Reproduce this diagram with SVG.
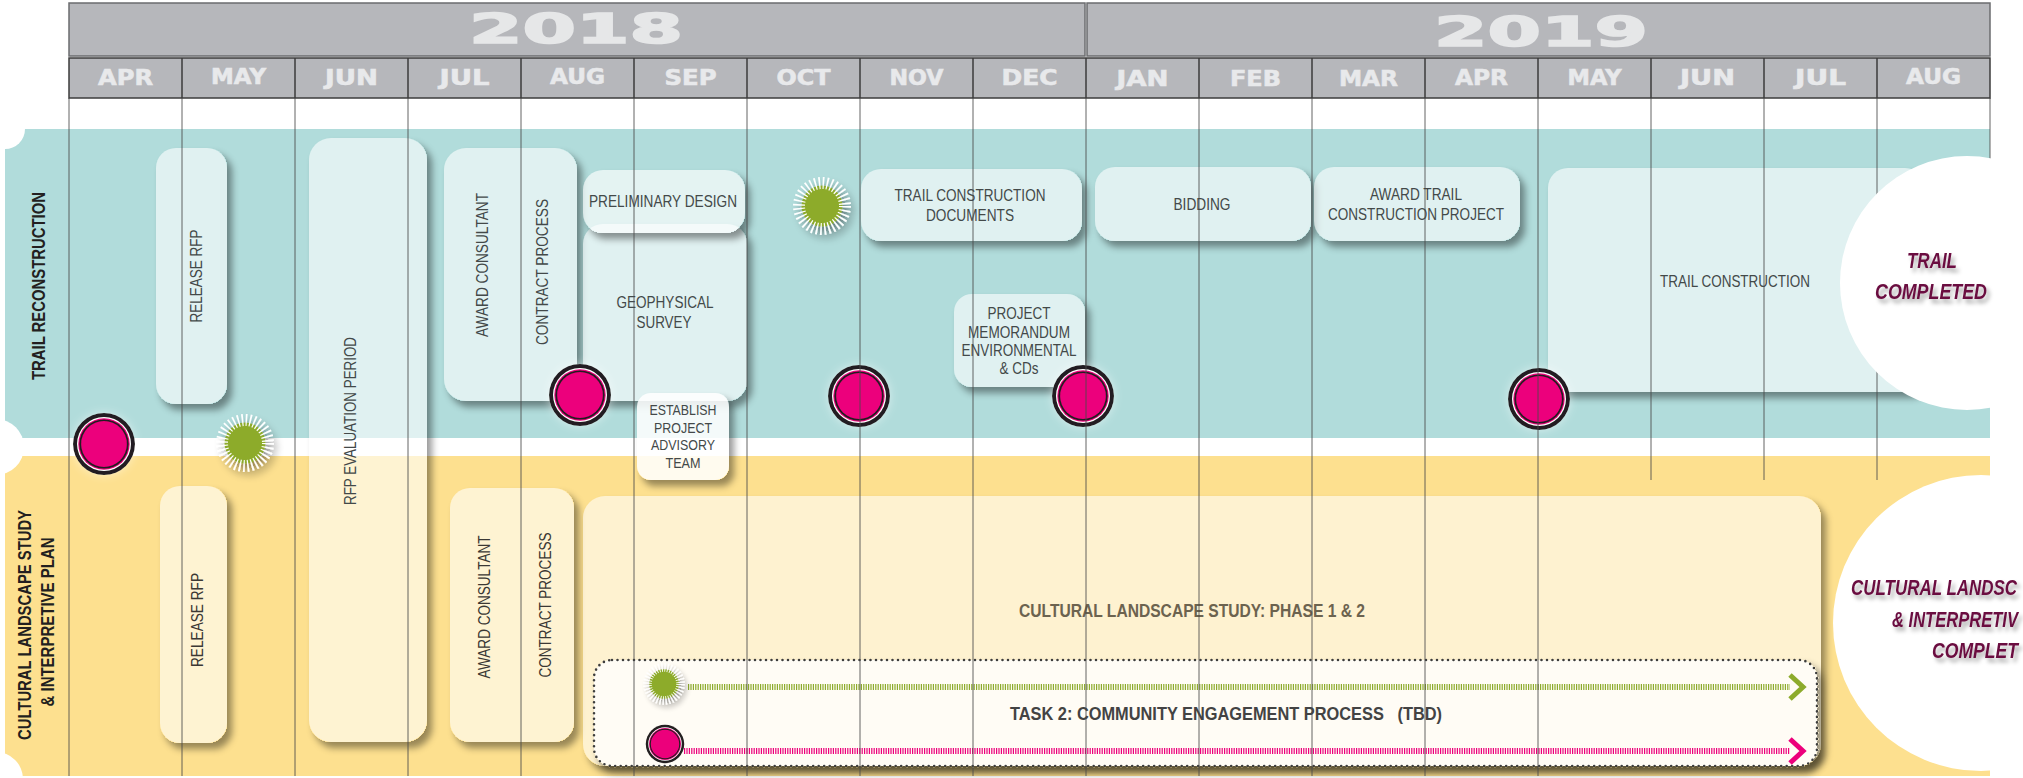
<svg xmlns="http://www.w3.org/2000/svg" xmlns:xlink="http://www.w3.org/1999/xlink" width="2023" height="778" viewBox="0 0 2023 778">
<style>
.t{font-family:"Liberation Sans",Arial,sans-serif;font-size:16.5px;fill:#434949;text-anchor:middle}
.tc{fill:#3b3834}
.bt{font-family:"Liberation Sans",Arial,sans-serif;font-size:19px;font-weight:bold;text-anchor:middle}
.mo{font-family:"DejaVu Sans",sans-serif;font-weight:bold;font-size:21px;fill:#e8e9eb;stroke:#e8e9eb;stroke-width:0.6;text-anchor:middle}
.yr{font-family:"DejaVu Sans",sans-serif;font-weight:bold;font-size:41px;fill:#e6e7e8;stroke:#e6e7e8;stroke-width:1.6}
.row{font-family:"Liberation Sans",Arial,sans-serif;font-weight:bold;font-size:18.5px;fill:#231f20;text-anchor:middle}
.done{font-family:"Liberation Sans",Arial,sans-serif;font-weight:bold;font-style:italic;font-size:22px;fill:#6b0d40}
.box{fill:#fff;fill-opacity:0.6}
.hd{fill:#b6b7bb}
</style>
<defs>
<filter id="sh" x="-30%" y="-30%" width="160%" height="160%" color-interpolation-filters="sRGB">
<feComponentTransfer in="SourceAlpha" result="a"><feFuncA type="linear" slope="20"/></feComponentTransfer>
<feGaussianBlur in="a" stdDeviation="3.5" result="bl"/>
<feOffset in="bl" dx="5" dy="6" result="of"/>
<feFlood flood-color="#000" flood-opacity="0.4"/>
<feComposite in2="of" operator="in" result="shc"/>
<feComposite in="shc" in2="a" operator="out" result="s"/>
<feMerge><feMergeNode in="s"/><feMergeNode in="SourceGraphic"/></feMerge>
</filter>
<filter id="ds" x="-50%" y="-50%" width="200%" height="200%"><feDropShadow dx="4" dy="5" stdDeviation="3" flood-color="#000" flood-opacity="0.4"/></filter>
<filter id="glow" x="-50%" y="-50%" width="200%" height="200%"><feGaussianBlur in="SourceAlpha" stdDeviation="5"/><feComponentTransfer><feFuncA type="linear" slope="0.5"/></feComponentTransfer><feColorMatrix type="matrix" values="0 0 0 0 1 0 0 0 0 1 0 0 0 0 1 0 0 0 1 0"/><feMerge><feMergeNode/><feMergeNode in="SourceGraphic"/></feMerge></filter>
<filter id="ts" x="-20%" y="-40%" width="140%" height="180%"><feDropShadow dx="3" dy="4" stdDeviation="2" flood-color="#000" flood-opacity="0.35"/></filter>
<g id="ms"><circle r="31" fill="#231f20"/><circle r="27" fill="#fff"/><circle r="25.7" fill="#ec007b"/><circle r="24.6" fill="#231f20"/><circle r="22.9" fill="#ec007b"/></g>
<g id="sun"><circle r="20.5" fill="#8dab2c"/><circle r="23" fill="none" stroke="#fff" stroke-width="12" stroke-dasharray="1.5 2.514"/></g>
<marker id="chG" viewBox="0 0 20 28" markerWidth="20" markerHeight="28" refX="3" refY="14" orient="auto" markerUnits="userSpaceOnUse"><path d="M3,2 L16,14 L3,26" fill="none" stroke="#8dab2c" stroke-width="5"/></marker>
<marker id="chP" viewBox="0 0 20 28" markerWidth="20" markerHeight="28" refX="3" refY="14" orient="auto" markerUnits="userSpaceOnUse"><path d="M3,2 L16,14 L3,26" fill="none" stroke="#ec007b" stroke-width="5"/></marker>
</defs>
<rect width="2023" height="778" fill="#fff"/>
<g id="bands">
<rect x="5" y="129" width="1985" height="309" fill="#b1dcdb"/>
<rect x="5" y="456" width="1985" height="320" fill="#fde08f"/>
<circle cx="5" cy="129" r="20" fill="#fff"/>
<circle cx="-4" cy="447" r="28" fill="#fff"/>
<circle cx="-4" cy="779" r="27" fill="#fff"/>
</g>
<g id="row-labels">
<text class="row" transform="translate(45,286) rotate(-90)" textLength="188" lengthAdjust="spacingAndGlyphs">TRAIL RECONSTRUCTION</text>
<text class="row" transform="translate(31,625) rotate(-90)" textLength="230" lengthAdjust="spacingAndGlyphs">CULTURAL LANDSCAPE STUDY</text>
<text class="row" transform="translate(54,622) rotate(-90)" textLength="169" lengthAdjust="spacingAndGlyphs">&amp; INTERPRETIVE PLAN</text>
</g>
<g id="n-release-rfp-trail"><rect class="box" filter="url(#sh)" x="156" y="148" width="71" height="256" rx="20"/>
<text class="t" transform="translate(202,276) rotate(-90)" textLength="93" lengthAdjust="spacingAndGlyphs">RELEASE RFP</text></g>
<g id="n-rfp-evaluation"><rect class="box" filter="url(#sh)" x="309" y="138" width="118" height="604" rx="22"/>
<text class="t" transform="translate(356,421) rotate(-90)" textLength="168" lengthAdjust="spacingAndGlyphs">RFP EVALUATION PERIOD</text></g>
<g id="n-award-trail-consultant"><rect class="box" filter="url(#sh)" x="444" y="148" width="133" height="253" rx="22"/>
<text class="t" transform="translate(488,265) rotate(-90)" textLength="144" lengthAdjust="spacingAndGlyphs">AWARD CONSULTANT</text>
<text class="t" transform="translate(548,272) rotate(-90)" textLength="146" lengthAdjust="spacingAndGlyphs">CONTRACT PROCESS</text></g>
<g id="n-geophysical"><rect class="box" filter="url(#sh)" x="583" y="224" width="164" height="177" rx="20"/>
<text class="t" x="665" y="308" textLength="97" lengthAdjust="spacingAndGlyphs">GEOPHYSICAL</text>
<text class="t" x="664" y="328" textLength="55" lengthAdjust="spacingAndGlyphs">SURVEY</text></g>
<g id="n-preliminary"><rect class="box" filter="url(#sh)" x="583" y="170" width="162" height="63" rx="20" style="fill-opacity:0.65"/>
<text class="t" x="663" y="207" textLength="148" lengthAdjust="spacingAndGlyphs">PRELIMINARY DESIGN</text></g>
<g id="n-establish"><rect class="box" filter="url(#sh)" x="637" y="393" width="92" height="87" rx="14" style="fill-opacity:0.86"/>
<text class="t" x="683" y="415" style="font-size:14.5px" textLength="67" lengthAdjust="spacingAndGlyphs">ESTABLISH</text>
<text class="t" x="683" y="433" style="font-size:14.5px" textLength="58" lengthAdjust="spacingAndGlyphs">PROJECT</text>
<text class="t" x="683" y="450" style="font-size:14.5px" textLength="64" lengthAdjust="spacingAndGlyphs">ADVISORY</text>
<text class="t" x="683" y="468" style="font-size:14.5px" textLength="35" lengthAdjust="spacingAndGlyphs">TEAM</text></g>
<g id="n-trail-docs"><rect class="box" filter="url(#sh)" x="861" y="169" width="221" height="72" rx="20"/>
<text class="t" x="970" y="201" textLength="151" lengthAdjust="spacingAndGlyphs">TRAIL CONSTRUCTION</text>
<text class="t" x="970" y="221" textLength="88" lengthAdjust="spacingAndGlyphs">DOCUMENTS</text></g>
<g id="n-bidding"><rect class="box" filter="url(#sh)" x="1095" y="167" width="216" height="74" rx="20"/>
<text class="t" x="1202" y="210" textLength="57" lengthAdjust="spacingAndGlyphs">BIDDING</text></g>
<g id="n-award-trail-project"><rect class="box" filter="url(#sh)" x="1314" y="167" width="206" height="74" rx="20"/>
<text class="t" x="1416" y="200" textLength="92" lengthAdjust="spacingAndGlyphs">AWARD TRAIL</text>
<text class="t" x="1416" y="220" textLength="176" lengthAdjust="spacingAndGlyphs">CONSTRUCTION PROJECT</text></g>
<g id="n-memorandum"><rect class="box" filter="url(#sh)" x="954" y="294" width="131" height="93" rx="18"/>
<text class="t" x="1019" y="319" textLength="63" lengthAdjust="spacingAndGlyphs">PROJECT</text>
<text class="t" x="1019" y="338" textLength="102" lengthAdjust="spacingAndGlyphs">MEMORANDUM</text>
<text class="t" x="1019" y="356" textLength="115" lengthAdjust="spacingAndGlyphs">ENVIRONMENTAL</text>
<text class="t" x="1019" y="374" textLength="39" lengthAdjust="spacingAndGlyphs">&amp; CDs</text></g>
<g id="n-trail-construction"><rect class="box" filter="url(#sh)" x="1548" y="168" width="377" height="224" rx="20"/>
<text class="t" x="1735" y="287" textLength="150" lengthAdjust="spacingAndGlyphs">TRAIL CONSTRUCTION</text></g>
<g id="n-release-rfp-cultural"><rect class="box" filter="url(#sh)" x="160" y="486" width="67" height="257" rx="20"/>
<text class="t tc" transform="translate(203,620) rotate(-90)" textLength="94" lengthAdjust="spacingAndGlyphs">RELEASE RFP</text></g>
<g id="n-award-cultural-consultant"><rect class="box" filter="url(#sh)" x="450" y="488" width="124" height="254" rx="20"/>
<text class="t tc" transform="translate(490,607) rotate(-90)" textLength="143" lengthAdjust="spacingAndGlyphs">AWARD CONSULTANT</text>
<text class="t tc" transform="translate(551,605) rotate(-90)" textLength="145" lengthAdjust="spacingAndGlyphs">CONTRACT PROCESS</text></g>
<g id="n-cultural-study"><rect class="box" filter="url(#sh)" x="583" y="496" width="1238" height="270" rx="22" style="fill-opacity:0.58"/>
<text class="bt" x="1192" y="617" fill="#6c634f" textLength="346" lengthAdjust="spacingAndGlyphs">CULTURAL LANDSCAPE STUDY: PHASE 1 &amp; 2</text></g>
<g id="n-task2"><rect filter="url(#sh)" x="594" y="660" width="1223" height="106" rx="18" fill="#fffdf8" fill-opacity="0.93" stroke="#3d3d3d" stroke-width="2.6" stroke-dasharray="0 5.5" stroke-linecap="round"/>
<text class="bt" x="1226" y="720" fill="#434343" style="white-space:pre" textLength="432" lengthAdjust="spacingAndGlyphs">TASK 2: COMMUNITY ENGAGEMENT PROCESS   (TBD)</text></g>
<g id="connectors">
<line x1="688" y1="687" x2="1790" y2="687" stroke="#8dab2c" stroke-width="6" stroke-dasharray="1.2 1.2" marker-end="url(#chG)"/>
<line x1="684" y1="751" x2="1790" y2="751" stroke="#ec007b" stroke-width="6" stroke-dasharray="1.2 1.2" marker-end="url(#chP)"/>
</g>
<g id="milestones">
<use xlink:href="#ms" href="#ms" transform="translate(104,444)" filter="url(#glow)"/>
<use xlink:href="#ms" href="#ms" transform="translate(580,395)" filter="url(#glow)"/>
<use xlink:href="#ms" href="#ms" transform="translate(859,396)" filter="url(#glow)"/>
<use xlink:href="#ms" href="#ms" transform="translate(1083,396)" filter="url(#glow)"/>
<use xlink:href="#ms" href="#ms" transform="translate(1539,399)" filter="url(#glow)"/>
<use xlink:href="#ms" href="#ms" transform="translate(665,744) scale(0.62)"/>
<use xlink:href="#sun" href="#sun" transform="translate(822,206)" filter="url(#ds)"/>
<use xlink:href="#sun" href="#sun" transform="translate(245,443)" filter="url(#ds)"/>
<use xlink:href="#sun" href="#sun" transform="translate(664,684) scale(0.72)" filter="url(#ds)"/>
</g>
<g id="grid">
<path d="M69,98V776M182,98V776M295,98V776M408,98V776M521,98V776M634,98V776M747,98V776M860,98V776M973,98V776M1086,98V776M1199,98V776M1312,98V776M1425,98V776M1538,98V776M1651,98V480M1764,98V480M1877,98V480M1990,98V160" stroke="#4a4a4a" stroke-width="1" stroke-opacity="0.85" fill="none"/>
</g>
<g id="n-trail-completed">
<circle cx="1967" cy="283" r="127" fill="#fff"/>
<g filter="url(#ts)">
<text class="done" x="1932" y="268" text-anchor="middle" textLength="50" lengthAdjust="spacingAndGlyphs">TRAIL</text>
<text class="done" x="1931" y="299" text-anchor="middle" textLength="112" lengthAdjust="spacingAndGlyphs">COMPLETED</text>
</g>
</g>
<g id="n-cultural-completed">
<circle cx="1981" cy="623" r="148" fill="#fff"/>
<g filter="url(#ts)">
<text class="done" x="1851" y="595" textLength="166" lengthAdjust="spacingAndGlyphs">CULTURAL LANDSC</text>
<text class="done" x="1892" y="627" textLength="126" lengthAdjust="spacingAndGlyphs">&amp; INTERPRETIV</text>
<text class="done" x="1932" y="658" textLength="86" lengthAdjust="spacingAndGlyphs">COMPLET</text>
</g>
</g>
<g id="header">
<rect class="hd" x="69" y="3" width="1016" height="53" stroke="#6b6c6f" stroke-width="1.5"/>
<rect class="hd" x="1087" y="3" width="903" height="53" stroke="#6b6c6f" stroke-width="1.5"/>
<text class="yr" x="469" y="43" textLength="214" lengthAdjust="spacingAndGlyphs">2018</text>
<text class="yr" x="1434" y="46" textLength="214" lengthAdjust="spacingAndGlyphs">2019</text>
<rect class="hd" x="69" y="58" width="1921" height="40" stroke="#3c3c3c" stroke-width="1.5"/>
<path d="M182,58V98M295,58V98M408,58V98M521,58V98M634,58V98M747,58V98M860,58V98M973,58V98M1086,58V98M1199,58V98M1312,58V98M1425,58V98M1538,58V98M1651,58V98M1764,58V98M1877,58V98" stroke="#3c3c3c" stroke-width="1.5"/>
<text class="mo" x="125.5" y="85" textLength="55" lengthAdjust="spacingAndGlyphs">APR</text>
<text class="mo" x="238.5" y="84" textLength="55" lengthAdjust="spacingAndGlyphs">MAY</text>
<text class="mo" x="351.5" y="85" textLength="53" lengthAdjust="spacingAndGlyphs">JUN</text>
<text class="mo" x="464.5" y="85" textLength="50" lengthAdjust="spacingAndGlyphs">JUL</text>
<text class="mo" x="577.5" y="84" textLength="55" lengthAdjust="spacingAndGlyphs">AUG</text>
<text class="mo" x="690.5" y="85" textLength="52" lengthAdjust="spacingAndGlyphs">SEP</text>
<text class="mo" x="803.5" y="85" textLength="54" lengthAdjust="spacingAndGlyphs">OCT</text>
<text class="mo" x="916.5" y="85" textLength="54" lengthAdjust="spacingAndGlyphs">NOV</text>
<text class="mo" x="1029.5" y="85" textLength="56" lengthAdjust="spacingAndGlyphs">DEC</text>
<text class="mo" x="1142.5" y="86" textLength="52" lengthAdjust="spacingAndGlyphs">JAN</text>
<text class="mo" x="1255.5" y="86" textLength="51" lengthAdjust="spacingAndGlyphs">FEB</text>
<text class="mo" x="1368.5" y="86" textLength="59" lengthAdjust="spacingAndGlyphs">MAR</text>
<text class="mo" x="1481.5" y="85" textLength="53" lengthAdjust="spacingAndGlyphs">APR</text>
<text class="mo" x="1594.5" y="85" textLength="54" lengthAdjust="spacingAndGlyphs">MAY</text>
<text class="mo" x="1707.5" y="85" textLength="55" lengthAdjust="spacingAndGlyphs">JUN</text>
<text class="mo" x="1820.5" y="85" textLength="51" lengthAdjust="spacingAndGlyphs">JUL</text>
<text class="mo" x="1933.5" y="84" textLength="55" lengthAdjust="spacingAndGlyphs">AUG</text>
</g>
</svg>
